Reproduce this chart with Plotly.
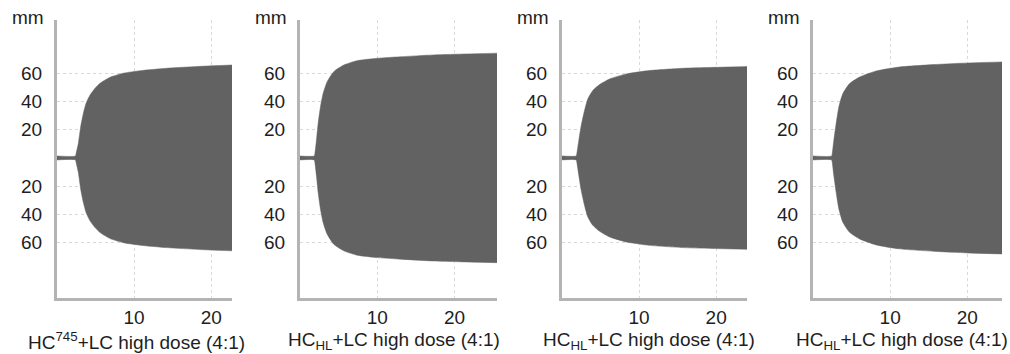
import plotly.graph_objects as go

# ---- data (time in min, amplitude in mm) ----
t1 = [0, 2.40, 2.47, 2.77, 3.07, 3.42, 3.77, 4.29, 4.94, 5.58, 6.88, 8.6, 10.8, 14.2, 18.6, 22.7]
a1 = [1.4, 1.4, 3.0, 10.4, 22.2, 31.7, 38.8, 44.7, 49.5, 53.0, 57.3, 60.2, 62.0, 63.7, 65.1, 66.0]

t2 = [0, 1.85, 1.92, 2.13, 2.35, 2.65, 3.0, 3.52, 4.37, 5.67, 7.4, 10.0, 13.0, 17.3, 21.6, 25.5]
a2 = [1.4, 1.4, 3.0, 12.8, 24.6, 36.4, 46.0, 54.2, 61.3, 66.0, 69.1, 70.8, 71.9, 73.2, 73.9, 74.4]

t3 = [0, 1.85, 1.92, 2.18, 2.49, 2.92, 3.35, 4.0, 4.87, 6.17, 8.34, 11.36, 15.7, 20.0, 24.0]
a3 = [1.4, 1.4, 3.0, 12.4, 23.0, 33.7, 41.9, 47.9, 52.1, 56.1, 59.7, 62.1, 63.7, 64.4, 64.9]

t4 = [0, 2.42, 2.49, 2.7, 3.0, 3.35, 3.87, 4.74, 6.04, 8.2, 11.2, 15.6, 20.1, 24.5]
a4 = [1.4, 1.4, 3.0, 12.6, 24.4, 36.2, 45.7, 52.8, 57.5, 61.8, 64.6, 66.3, 67.5, 68.2]

titles = ["HC<sup>745</sup>+LC high dose (4:1)",
          "HC<sub>HL</sub>+LC high dose (4:1)",
          "HC<sub>HL</sub>+LC high dose (4:1)",
          "HC<sub>HL</sub>+LC high dose (4:1)"]

x_ticks = [10, 20]
y_tickvals = [-60, -40, -20, 20, 40, 60]
y_ticktext = ["60", "40", "20", "20", "40", "60"]
y_unit = "mm"

x_ranges = [22.7, 25.5, 24.0, 24.5]

# ---- layout geometry ----
W, H = 1010, 354
x_dom_px = [(57, 232), (300, 497), (562, 747), (813, 1002)]
title_cx = [136.5, 394, 649, 902]
y_top_px, y_bot_px = 20, 298
y_dom = [1 - y_bot_px / H, 1 - y_top_px / H]

FONT = "Liberation Sans, Arial, Helvetica, sans-serif"
FILL = "#626262"
AXC = "#b4b4b4"
TXT = "#1e1e1e"
FS = 19

fig = go.Figure()
series = [(t1, a1), (t2, a2), (t3, a3), (t4, a4)]

for i, (t, a) in enumerate(series):
    n = "" if i == 0 else str(i + 1)
    for sign in (1, -1):
        fig.add_trace(go.Scatter(
            x=t, y=[sign * v for v in a], mode="lines", fill="tozeroy",
            fillcolor=FILL,
            line=dict(color=FILL, width=0.5, shape="spline", smoothing=0.6),
            xaxis="x" + n, yaxis="y" + n, showlegend=False, hoverinfo="skip"))

    x0, x1 = x_dom_px[i]
    fig.update_layout(**{
        "xaxis" + n: dict(
            domain=[x0 / W, x1 / W], range=[0, x_ranges[i]],
            tickvals=x_ticks, ticks="",
            tickfont=dict(size=FS, color=TXT, family=FONT),
            showgrid=True, gridcolor="#d9d9d9", griddash="dot", gridwidth=1,
            showline=True, linecolor=AXC, linewidth=3, zeroline=False,
            anchor="y" + n, fixedrange=True),
        "yaxis" + n: dict(
            domain=y_dom, range=[-99.5, 98],
            tickvals=y_tickvals, ticktext=y_ticktext,
            ticks="outside", ticklen=8, tickcolor="rgba(0,0,0,0)",
            tickfont=dict(size=FS, color=TXT, family=FONT),
            showgrid=True, gridcolor="#d9d9d9", griddash="dot", gridwidth=1,
            showline=True, linecolor=AXC, linewidth=3, zeroline=False,
            anchor="x" + n, fixedrange=True),
    })
    fig.add_annotation(
        text=y_unit, xref="paper", yref="paper",
        x=(x0 - 11) / W, y=1 - 18 / H, xanchor="right", yanchor="middle",
        showarrow=False, font=dict(size=FS, color=TXT, family=FONT))
    fig.add_annotation(
        text=titles[i], xref="paper", yref="paper",
        x=title_cx[i] / W, y=1 - 341 / H,
        xanchor="center", yanchor="middle",
        showarrow=False, font=dict(size=FS, color=TXT, family=FONT))

fig.update_layout(
    width=W, height=H, margin=dict(l=0, r=0, t=0, b=0),
    paper_bgcolor="white", plot_bgcolor="white",
    font=dict(family=FONT, color=TXT),
)

fig.write_html("out.html", config={"displayModeBar": False},
               post_script="document.body.style.margin='0';document.body.style.overflow='hidden';")
